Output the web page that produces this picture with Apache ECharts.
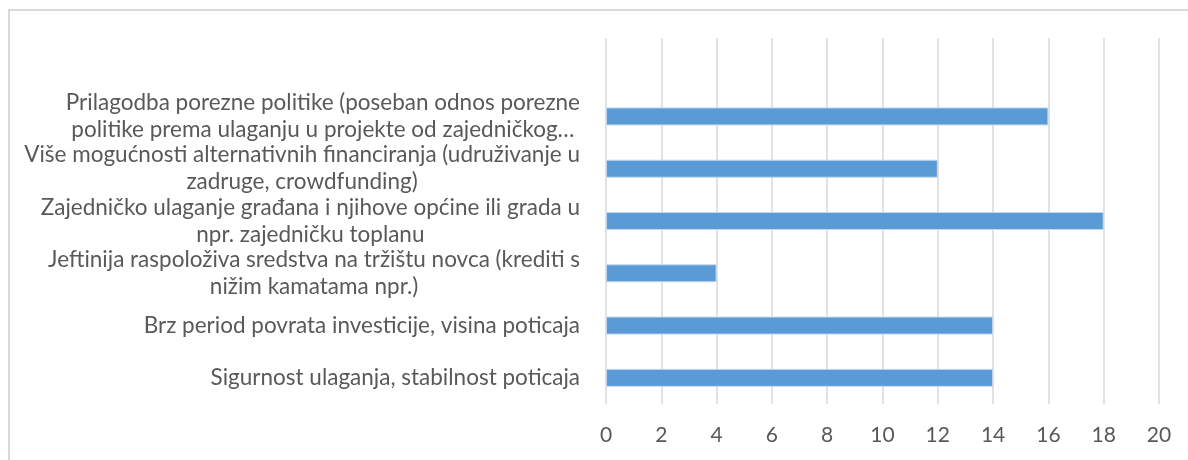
<!DOCTYPE html>
<html>
<head>
<meta charset="utf-8">
<script src="https://cdn.jsdelivr.net/npm/echarts@6/dist/echarts.min.js"></script>
<style>
  html, body { margin: 0; padding: 0; background: #fff; }
  #frame { position: absolute; left: 8px; top: 9px; width: 1200px; height: 470px; border-left: 2px solid #d9d9d9; border-top: 2px solid #d9d9d9; }
  #main { position: absolute; left: 0; top: 0; width: 1188px; height: 460px; }
</style>
</head>
<body>
<div id="frame"></div>
<div id="main"></div>
<script>
// kategorije odozdo prema gore (zadnja je prazna, kao u Excelu)
var categories = [
  'Sigurnost ulaganja, stabilnost poticaja',
  'Brz period povrata investicije, visina poticaja',
  'Jeftinija raspoloživa sredstva na tržištu novca (krediti s\nnižim kamatama npr.)',
  'Zajedničko ulaganje građana i njihove općine ili grada u\nnpr. zajedničku toplanu',
  'Više mogućnosti alternativnih financiranja (udruživanje u\nzadruge, crowdfunding)',
  'Prilagodba porezne politike (poseban odnos porezne\npolitike prema ulaganju u projekte od zajedničkog…',
  ''
];
var values = [14, 14, 4, 18, 12, 16, null];

var chart = echarts.init(document.getElementById('main'));

var option = {
  animation: false,
  grid: { left: 606, right: 29, top: 38, bottom: 56 },
  xAxis: {
    type: 'value',
    min: 0,
    max: 20,
    interval: 2,
    axisLine: { show: false },
    axisTick: { show: false },
    axisLabel: { color: '#595959', fontSize: 21, fontFamily: 'Lato', margin: 21 },
    splitLine: { lineStyle: { color: '#d9d9d9', width: 1.5 } }
  },
  yAxis: {
    type: 'category',
    data: categories,
    axisLine: { show: false },
    axisTick: { show: false },
    splitLine: { show: false },
    axisLabel: {
      color: '#595959',
      fontSize: 22.5,
      fontFamily: 'Lato',
      margin: 26,
      align: 'right',
      lineHeight: 27,
      formatter: function (v) {
        if (!v) return '';
        return v.split('\n').map(function (s) { return '{c|' + s + '}'; }).join('\n');
      },
      rich: {
        c: { align: 'center', color: '#595959', fontSize: 22.5, fontFamily: 'Lato', lineHeight: 27 }
      }
    }
  },
  series: [{
    type: 'bar',
    data: values,
    barWidth: 18,
    itemStyle: { color: '#5b9bd5', borderColor: '#c3d8ee', borderWidth: 1 }
  }]
};

chart.setOption(option);
</script>
</body>
</html>
